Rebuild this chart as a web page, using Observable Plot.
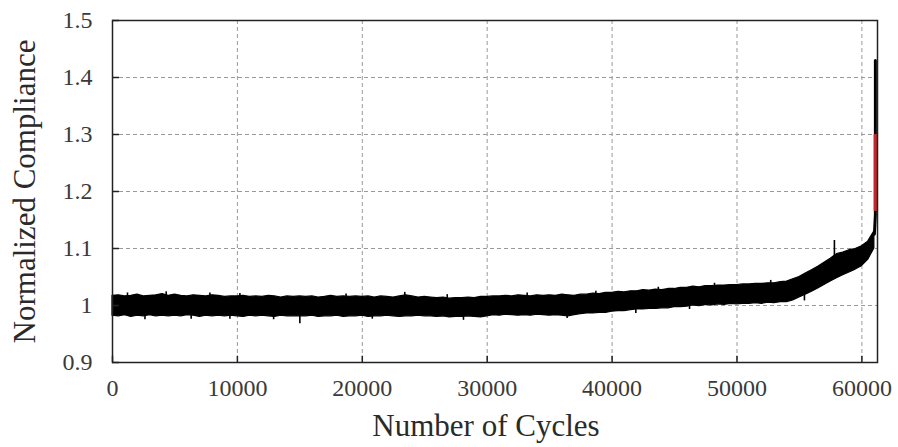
<!DOCTYPE html>
<html>
<head>
<meta charset="utf-8">
<script src="https://cdn.jsdelivr.net/npm/d3@7"></script>
<script src="https://cdn.jsdelivr.net/npm/@observablehq/plot@0.6"></script>
<style>
  html, body { margin: 0; padding: 0; background: #fff; }
  #chart svg { display: block; }
</style>
</head>
<body>
<div id="chart"></div>
<script>
// ---- data ----
const cycles = [
  0,500,1000,1500,2000,2500,3000,3500,4000,4500,
  5000,5500,6000,6500,7000,7500,8000,8500,9000,9500,
  10000,10500,11000,11500,12000,12500,13000,13500,14000,14500,
  15000,15500,16000,16500,17000,17500,18000,18500,19000,19500,
  20000,20500,21000,21500,22000,22500,23000,23500,24000,24500,
  25000,25500,26000,26500,27000,27500,28000,28500,29000,29500,
  30000,30500,31000,31500,32000,32500,33000,33500,34000,34500,
  35000,35500,36000,36500,37000,37500,38000,38500,39000,39500,
  40000,40500,41000,41500,42000,42500,43000,43500,44000,44500,
  45000,45500,46000,46500,47000,47500,48000,48500,49000,49500,
  50000,50500,51000,51500,52000,52500,53000,53500,54000,54500,
  55000,55500,56000,56500,57000,57500,58000,58500,59000,59500,
  60000,60500,61000
];
const upper = [
  1.017,1.018,1.016,1.017,1.019,1.016,1.017,1.018,1.020,1.017,
  1.019,1.017,1.016,1.018,1.017,1.016,1.018,1.017,1.015,1.016,
  1.016,1.017,1.015,1.016,1.015,1.017,1.016,1.014,1.016,1.015,
  1.016,1.015,1.016,1.014,1.015,1.017,1.015,1.016,1.015,1.016,
  1.015,1.016,1.014,1.016,1.015,1.014,1.016,1.018,1.016,1.014,
  1.015,1.014,1.013,1.014,1.012,1.013,1.013,1.014,1.013,1.015,
  1.015,1.016,1.016,1.017,1.016,1.018,1.017,1.016,1.018,1.017,
  1.018,1.017,1.019,1.018,1.017,1.019,1.019,1.021,1.020,1.022,
  1.022,1.024,1.023,1.025,1.025,1.027,1.026,1.028,1.027,1.029,
  1.029,1.031,1.031,1.033,1.032,1.034,1.034,1.035,1.035,1.036,
  1.036,1.037,1.037,1.038,1.038,1.039,1.039,1.041,1.042,1.046,
  1.050,1.056,1.062,1.068,1.075,1.082,1.090,1.093,1.097,1.099,
  1.104,1.112,1.130
];
const lower = [
  0.982,0.981,0.983,0.980,0.982,0.981,0.983,0.981,0.982,0.981,
  0.982,0.981,0.983,0.982,0.980,0.982,0.981,0.982,0.981,0.982,
  0.981,0.980,0.982,0.981,0.982,0.981,0.980,0.982,0.981,0.981,
  0.981,0.981,0.982,0.980,0.981,0.981,0.982,0.980,0.981,0.981,
  0.982,0.980,0.981,0.981,0.982,0.981,0.980,0.981,0.981,0.982,
  0.981,0.981,0.980,0.981,0.979,0.980,0.980,0.981,0.980,0.979,
  0.981,0.983,0.982,0.984,0.983,0.982,0.983,0.982,0.984,0.983,
  0.982,0.983,0.982,0.981,0.983,0.985,0.986,0.986,0.987,0.987,
  0.989,0.990,0.990,0.992,0.993,0.993,0.994,0.994,0.995,0.995,
  0.997,0.997,0.998,1.000,0.999,1.001,1.000,1.002,1.001,1.003,
  1.002,1.003,1.003,1.004,1.003,1.005,1.004,1.006,1.006,1.009,
  1.014,1.019,1.024,1.030,1.036,1.042,1.048,1.053,1.058,1.063,
  1.069,1.080,1.100
];
// isolated noise hairs / spikes on the band edges
const spikeCycles = [1200, 4300, 7800, 10200, 18700, 23400, 26800, 33200, 38700, 43700, 48200, 52700, 57800,
                     2600, 6300, 9400, 12900, 15000, 20800, 28100, 36400, 41900, 46200, 55400];
const spikeLow    = [1.012, 1.014, 1.012, 1.012, 1.010, 1.012, 1.008, 1.012, 1.015, 1.022, 1.030, 1.036, 1.085,
                     0.975, 0.976, 0.976, 0.975, 0.968, 0.976, 0.974, 0.977, 0.986, 0.993, 1.008];
const spikeHigh   = [1.022, 1.024, 1.022, 1.021, 1.020, 1.023, 1.019, 1.022, 1.025, 1.032, 1.039, 1.044, 1.114,
                     0.985, 0.986, 0.986, 0.985, 0.983, 0.986, 0.984, 0.987, 0.996, 1.003, 1.018];
// final failure rise
const failCycles = [61000, 61080, 61080];
const failValues = [1.125, 1.160, 1.430];
const redCycle = [61080];
const redLow = [1.165];
const redHigh = [1.300];

const xTicks = [0, 10000, 20000, 30000, 40000, 50000, 60000];
const yTicks = [0.9, 1.0, 1.1, 1.2, 1.3, 1.4, 1.5];
const xGrid = [10000, 20000, 30000, 40000, 50000, 60000];
const yGrid = [1.0, 1.1, 1.2, 1.3, 1.4];

const band = cycles.map((c, i) => ({c, lo: lower[i], hi: upper[i]}));
const spikes = spikeCycles.map((c, i) => ({c, lo: spikeLow[i], hi: spikeHigh[i]}));
const fail = failCycles.map((c, i) => ({c, v: failValues[i]}));
const red = redCycle.map((c, i) => ({c, lo: redLow[i], hi: redHigh[i]}));

const font = "'Liberation Serif', 'Times New Roman', serif";

const chart = Plot.plot({
  width: 898,
  height: 447,
  marginLeft: 112,
  marginRight: 21,
  marginTop: 20,
  marginBottom: 85,
  style: {fontFamily: font, background: "#fff"},
  x: {domain: [0, 61250]},
  y: {domain: [0.9, 1.5]},
  marks: [
    Plot.ruleX(xGrid, {stroke: "#9a9a9a", strokeWidth: 1, strokeDasharray: "4,3"}),
    Plot.ruleY(yGrid, {stroke: "#9a9a9a", strokeWidth: 1, strokeDasharray: "4,3"}),
    Plot.areaY(band, {x: "c", y1: "lo", y2: "hi", fill: "#000", stroke: "#000", strokeWidth: 1.2}),
    Plot.ruleX(spikes, {x: "c", y1: "lo", y2: "hi", stroke: "#000", strokeWidth: 1.6}),
    Plot.line(fail, {x: "c", y: "v", stroke: "#000", strokeWidth: 3}),
    Plot.ruleX(red, {x: "c", y1: "lo", y2: "hi", stroke: "#c1272d", strokeWidth: 3.5}),
    // inward ticks
    Plot.ruleX(xTicks, {y1: 0.9, y2: 0.911, stroke: "#222", strokeWidth: 1.5}),
    Plot.ruleY(yTicks, {x1: 0, x2: 560, stroke: "#222", strokeWidth: 1.5}),
    Plot.axisX(xTicks, {tickSize: 0, tickPadding: 16, fontSize: 24, fill: "#3a3a3a",
      tickFormat: d => String(d), label: null}),
    Plot.axisY(yTicks, {tickSize: 0, tickPadding: 20, fontSize: 24, fill: "#3a3a3a",
      tickFormat: d => String(+d.toFixed(1)), label: null}),
    Plot.frame({stroke: "#222", strokeWidth: 1.5}),
    Plot.text(["Number of Cycles"], {frameAnchor: "bottom", dy: 73, dx: -9, fontSize: 31,
      textAnchor: "middle", fill: "#2a2a2a"}),
    Plot.text(["Normalized Compliance"], {frameAnchor: "left", dx: -87, rotate: -90, fontSize: 31,
      textAnchor: "middle", fill: "#2a2a2a"})
  ]
});
document.getElementById("chart").appendChild(chart);
</script>
</body>
</html>
